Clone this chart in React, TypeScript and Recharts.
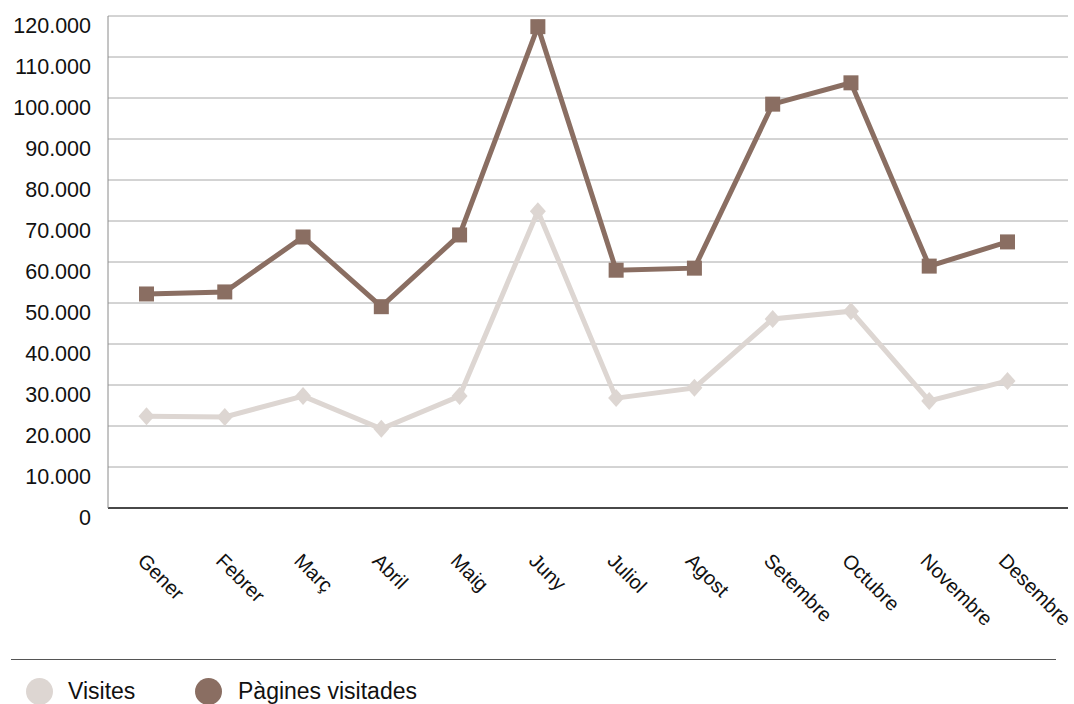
import { LineChart, Line, XAxis, YAxis, CartesianGrid, Legend } from 'recharts';

const months = ['Gener', 'Febrer', 'Març', 'Abril', 'Maig', 'Juny', 'Juliol', 'Agost', 'Setembre', 'Octubre', 'Novembre', 'Desembre'];
const visites = [22400, 22200, 27300, 19300, 27300, 72400, 26800, 29300, 46100, 48000, 26100, 31000];
const pagines = [52200, 52700, 66100, 49100, 66600, 117400, 58000, 58500, 98500, 103700, 59000, 64900];
const yTicks = [0, 10000, 20000, 30000, 40000, 50000, 60000, 70000, 80000, 90000, 100000, 110000, 120000];

const series = [
  { key: 'visites', name: 'Visites', color: '#DDD6D2' },
  { key: 'pagines', name: 'Pàgines visitades', color: '#8A6E62' },
];

const data = months.map((m, i) => ({ month: m, visites: visites[i], pagines: pagines[i] }));

const FONT = '"Liberation Sans", Arial, Helvetica, sans-serif';

const fmt = (v: number) => String(v).replace(/\B(?=(\d{3})+(?!\d))/g, '.');

const YTick = ({ x, y, payload }: any) => (
  <text x={x - 17} y={y + 17} textAnchor="end" fontSize={21.5} fontFamily={FONT} fill="#111">
    {fmt(payload.value)}
  </text>
);

const XTick = ({ x, y, payload }: any) => {
  const ax = x - 10;
  const ay = y + 54;
  return (
    <text x={ax} y={ay} transform={`rotate(45, ${ax}, ${ay})`} textAnchor="start" fontSize={20} fontFamily={FONT} fill="#111">
      {payload.value}
    </text>
  );
};

const SquareDot = ({ cx, cy }: any) => (
  <rect x={cx - 7.5} y={cy - 7.5} width={15} height={15} fill="#8A6E62" />
);

const DiamondDot = ({ cx, cy }: any) => (
  <path d={`M${cx},${cy - 9} L${cx + 8},${cy} L${cx},${cy + 9} L${cx - 8},${cy} Z`} fill="#DDD6D2" />
);

const LegendBox = () => (
  <div style={{ height: 54, position: 'relative', fontFamily: FONT }}>
    <div style={{ position: 'absolute', left: 11, right: 12, top: 9, borderTop: '1.5px solid #555' }} />
    {series.map((s, i) => {
      const left = i === 0 ? 26 : 195;
      const textLeft = i === 0 ? 68 : 238;
      return (
        <div key={s.key}>
          <div style={{ position: 'absolute', left, top: 28, width: 27, height: 27, borderRadius: '50%', background: s.color }} />
          <div style={{ position: 'absolute', left: textLeft, top: 27, fontSize: 23, lineHeight: '28px', color: '#111' }}>{s.name}</div>
        </div>
      );
    })}
  </div>
);

export default function App() {
  return (
    <div style={{ position: 'absolute', left: 0, top: 0, width: 1074, height: 704, background: '#fff' }}>
      <LineChart width={1074} height={704} data={data} margin={{ top: 16, right: 6, left: 0, bottom: 0 }}>
        <CartesianGrid horizontal vertical={false} stroke="#A8A8A8" strokeWidth={1} />
        <XAxis
          dataKey="month"
          height={142}
          padding={{ left: 38.5, right: 60.5 }}
          axisLine={{ stroke: '#1a1a1a', strokeWidth: 1.5 }}
          tickLine={false}
          tickSize={0}
          tickMargin={0}
          interval={0}
          tick={<XTick />}
        />
        <YAxis
          width={108}
          domain={[0, 120000]}
          ticks={yTicks}
          interval={0}
          axisLine={{ stroke: '#8a8a8a', strokeWidth: 1 }}
          tickLine={false}
          tickSize={0}
          tickMargin={0}
          tick={<YTick />}
        />
        <Legend verticalAlign="bottom" height={54} content={<LegendBox />} />
        <Line
          dataKey="visites"
          name="Visites"
          stroke="#DDD6D2"
          strokeWidth={5}
          dot={<DiamondDot />}
          activeDot={false}
          isAnimationActive={false}
        />
        <Line
          dataKey="pagines"
          name="Pàgines visitades"
          stroke="#8A6E62"
          strokeWidth={5}
          dot={<SquareDot />}
          activeDot={false}
          isAnimationActive={false}
        />
      </LineChart>
    </div>
  );
}
